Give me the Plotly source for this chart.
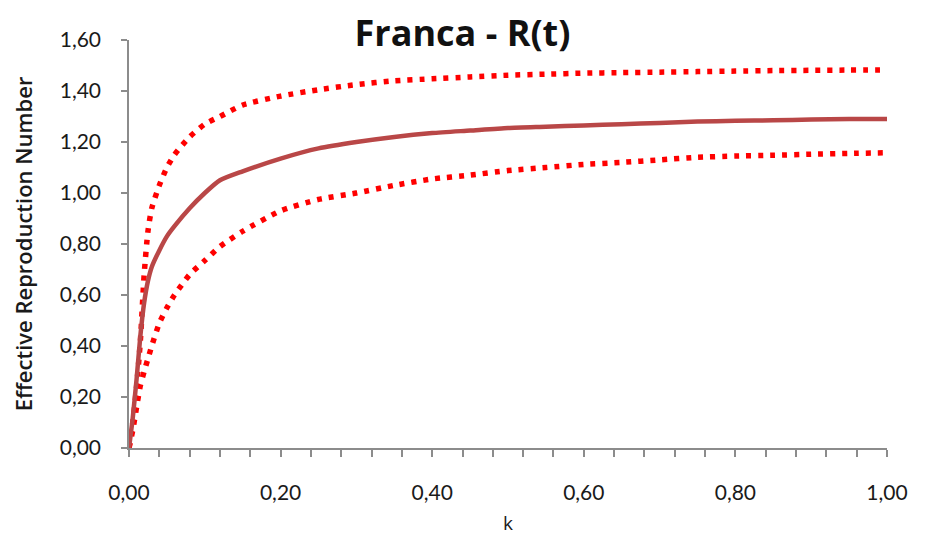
import plotly.graph_objects as go

# values
k = [0, 0.005, 0.01, 0.015, 0.02, 0.025, 0.03, 0.04, 0.05, 0.06, 0.08, 0.10,
     0.12, 0.15, 0.20, 0.25, 0.30, 0.35, 0.40, 0.45, 0.50, 0.55, 0.60, 0.65,
     0.70, 0.75, 0.80, 0.85, 0.90, 0.95, 1.00]
r_mid = [0.0, 0.12, 0.27, 0.44, 0.57, 0.655, 0.71, 0.775, 0.83, 0.87, 0.94, 1.00,
         1.05, 1.085, 1.135, 1.175, 1.20, 1.22, 1.235, 1.245, 1.255, 1.26, 1.265, 1.27,
         1.275, 1.28, 1.283, 1.285, 1.288, 1.29, 1.29]
r_upper = [0.0, 0.10, 0.24, 0.42, 0.68, 0.85, 0.94, 1.03, 1.10, 1.15, 1.22, 1.27,
           1.30, 1.345, 1.38, 1.405, 1.425, 1.44, 1.448, 1.455, 1.462, 1.466, 1.47, 1.472,
           1.474, 1.476, 1.478, 1.48, 1.481, 1.482, 1.483]
r_lower = [0.0, 0.07, 0.16, 0.245, 0.30, 0.35, 0.40, 0.49, 0.55, 0.60, 0.68, 0.735,
           0.79, 0.85, 0.93, 0.975, 1.00, 1.03, 1.055, 1.07, 1.088, 1.10, 1.112, 1.12,
           1.13, 1.14, 1.145, 1.148, 1.152, 1.155, 1.158]

x_ticks = [i * 0.04 for i in range(26)]
x_labels = ["0,00", "", "", "", "", "0,20", "", "", "", "", "0,40", "", "", "", "",
            "0,60", "", "", "", "", "0,80", "", "", "", "", "1,00"]
y_ticks = [0, 0.2, 0.4, 0.6, 0.8, 1.0, 1.2, 1.4, 1.6]
y_labels = ["0,00", "0,20", "0,40", "0,60", "0,80", "1,00", "1,20", "1,40", "1,60"]

font = "Lato"
fig = go.Figure()

dotted = dict(color="#FF0000", width=5.5, dash="5px,7px", shape="spline", smoothing=0.6)
fig.add_trace(go.Scatter(x=k, y=r_upper, mode="lines", line=dotted, showlegend=False))
fig.add_trace(go.Scatter(x=k, y=r_lower, mode="lines", line=dotted, showlegend=False))
fig.add_trace(go.Scatter(x=k, y=r_mid, mode="lines",
                         line=dict(color="#B94747", width=4.5, shape="spline", smoothing=0.6),
                         showlegend=False))

fig.update_xaxes(range=[0, 1], tickvals=x_ticks, ticktext=x_labels, ticks="outside", ticklen=7,
                 tickcolor="#8C8C8C", tickwidth=1.5, showline=True, linecolor="#8C8C8C", linewidth=1.5,
                 showgrid=False, zeroline=False, ticklabelstandoff=18, automargin=False,
                 tickfont=dict(family=font, size=21, color="#1a1a1a"),
                 title=dict(text="k", font=dict(family="Open Sans", size=19, color="#1a1a1a"), standoff=14))
fig.update_yaxes(range=[0, 1.6], tickvals=y_ticks, ticktext=y_labels, ticks="outside", ticklen=6,
                 tickcolor="#8C8C8C", tickwidth=1.5, showline=True, linecolor="#8C8C8C", linewidth=1.5,
                 showgrid=False, zeroline=False, ticklabelstandoff=16, automargin=False,
                 tickfont=dict(family=font, size=21, color="#1a1a1a"),
                 title=dict(text="Effective Reproduction Number",
                            font=dict(family="Open Sans", size=22, color="#1a1a1a", weight=600),
                            standoff=23))

# page adds an 8px body margin, so margins are shifted by 8px
fig.update_layout(title=dict(text="<b>Franca - R(t)</b>", xref="paper", x=0.44, xanchor="center",
                             y=0.953, yanchor="middle",
                             font=dict(family="Open Sans", size=36, color="#111111")),
                  width=925, height=538, margin=dict(l=121, r=46, t=32, b=98),
                  plot_bgcolor="white", paper_bgcolor="white")

fig.write_html("out.html")
